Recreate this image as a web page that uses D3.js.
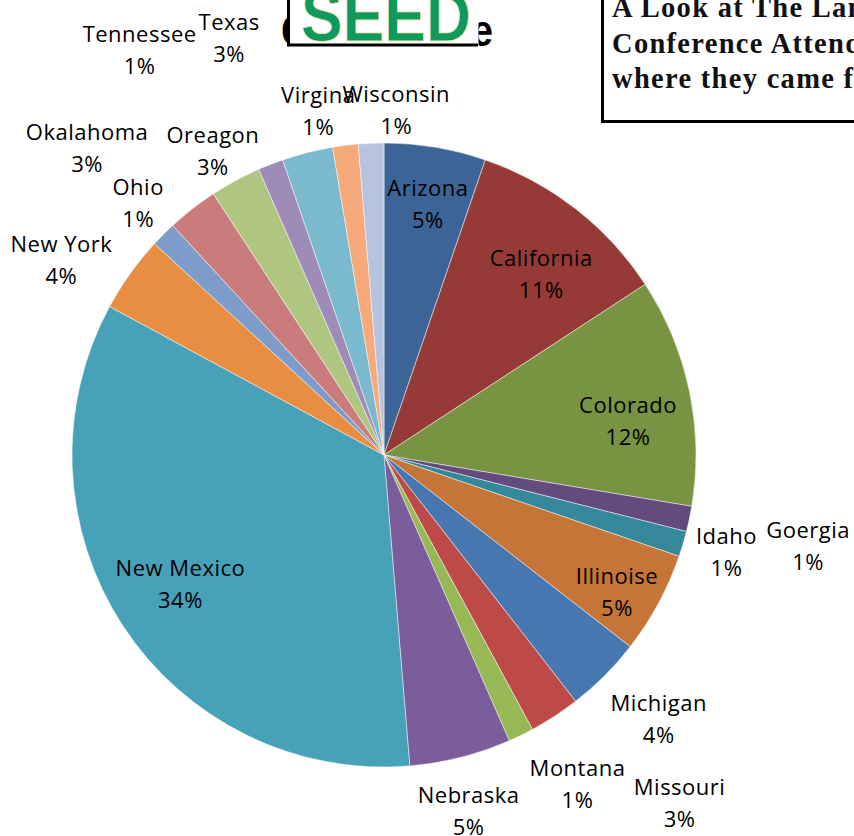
<!DOCTYPE html>
<html>
<head>
<meta charset="utf-8">
<script src="https://cdn.jsdelivr.net/npm/d3@7"></script>
<style>
  html, body { margin: 0; padding: 0; background: #fff; overflow: hidden; }
  svg { display: block; }
</style>
</head>
<body>
<div id="chart"></div>
<script>
// Données : nombre de participants par état (ordre du camembert, sens horaire)
const states = ["Arizona", "California", "Colorado", "Goergia", "Idaho", "Illinoise",
  "Michigan", "Missouri", "Montana", "Nebraska", "New Mexico", "New York", "Ohio",
  "Okalahoma", "Oreagon", "Tennessee", "Texas", "Virgina", "Wisconsin"];
const attendees = [4, 8, 9, 1, 1, 4, 3, 2, 1, 4, 26, 3, 1, 2, 2, 1, 2, 1, 1];

const colors = ["#3C6497", "#963A38", "#789341", "#634B7D", "#35879A", "#C57537",
  "#4677B1", "#BD4A47", "#97B955", "#7A5D9A", "#47A1B8", "#E88E42", "#7D9CC9",
  "#C97C7B", "#AFC680", "#9E8BB8", "#7BBACE", "#F6A97A", "#B5C3DE"];

// placement des étiquettes : [rayon relatif, décalage angulaire en degrés]
const labelLayout = [[0.82, 0.4], [0.77, 3], [0.79, 3.7], [1.39, 0.2], [1.14, -0.9], [0.865, 1.9],
  [1.22, -1.2], [1.46, -7.3], [1.22, -4.5], [1.17, 0.8], [0.77, 1.1], [1.21, -4.25], [1.13, 0.8],
  [1.37, -6.1], [1.12, -0.9], [1.52, -9.7], [1.43, -6.1], [1.125, -3.7], [1.11, 4.4]];

const width = 854, height = 836;
const cx = 384, cy = 455, radius = 312;

const svg = d3.select("#chart")
  .append("svg")
  .attr("width", width)
  .attr("height", height)
  .attr("viewBox", [0, 0, width, height]);

//---------------------------------------------------------------------------------------

// Camembert

const tidyData = states.map((s, i) => ({ state: s, value: attendees[i], col: colors[i], lay: labelLayout[i] }));
const total = d3.sum(attendees);

const pie = d3.pie().sort(null).value(d => d.value);
const arcs = pie(tidyData);

const arc = d3.arc().innerRadius(0).outerRadius(radius);

const gPie = svg.append("g").attr("transform", `translate(${cx}, ${cy})`);

gPie.selectAll("path")
  .data(arcs)
  .join("path")
  .attr("d", arc)
  .attr("fill", d => d.data.col)
  .attr("stroke", "#ffffff")
  .attr("stroke-opacity", 0.6)
  .attr("stroke-width", 0.8);

// Étiquettes : nom + pourcentage
const labels = gPie.selectAll(".label")
  .data(arcs)
  .join("g")
  .attr("class", "label")
  .attr("transform", d => {
    const a = (d.startAngle + d.endAngle) / 2 + d.data.lay[1] * Math.PI / 180;
    const r = radius * d.data.lay[0];
    return `translate(${r * Math.sin(a)}, ${-r * Math.cos(a)})`;
  });

const labelLines = [
  d => d.data.state,
  d => `${Math.round(d.data.value / total * 100)}%`
];

labelLines.forEach((fn, i) => {
  labels.append("text")
    .attr("y", i === 0 ? -16 : 16)
    .attr("text-anchor", "middle")
    .attr("dominant-baseline", "central")
    .attr("font-family", "'Open Sans', 'Noto Sans', sans-serif")
    .attr("font-size", "22px")
    .attr("letter-spacing", "0.5px")
    .attr("fill", "#000")
    .text(fn);
});

//---------------------------------------------------------------------------------------

// Titre masqué derrière le logo SEED (seuls les bords dépassent)
svg.append("text")
  .attr("x", 281)
  .attr("y", 46)
  .attr("font-family", "'Liberation Sans', sans-serif")
  .attr("font-weight", "bold")
  .attr("font-size", "44px")
  .attr("textLength", 212)
  .attr("lengthAdjust", "spacingAndGlyphs")
  .attr("fill", "#000")
  .text("Conference");

// Logo SEED
const logo = svg.append("g");
logo.append("rect")
  .attr("x", 288.5)
  .attr("y", -10)
  .attr("width", 190)
  .attr("height", 56.5)
  .attr("fill", "#fff");
logo.append("path")
  .attr("d", "M288.5,-5 V45 H478")
  .attr("fill", "none")
  .attr("stroke", "#000")
  .attr("stroke-width", 3);
logo.append("text")
  .attr("x", 301)
  .attr("y", 41)
  .attr("font-family", "'Liberation Sans', sans-serif")
  .attr("font-weight", "bold")
  .attr("font-size", "72px")
  .attr("textLength", 170)
  .attr("lengthAdjust", "spacingAndGlyphs")
  .attr("fill", "#0D9A5C")
  .attr("stroke", "#F2E3A8")
  .attr("stroke-width", 0.8)
  .text("SEED");

//---------------------------------------------------------------------------------------

// Encadré titre (coupé à droite)
const box = svg.append("g");
box.append("rect")
  .attr("x", 602.5)
  .attr("y", -10)
  .attr("width", 300)
  .attr("height", 131.5)
  .attr("fill", "#fff")
  .attr("stroke", "#000")
  .attr("stroke-width", 3);

const titleLines = ["A Look at The Land", "Conference Attendees and", "where they came from"];
box.selectAll(".title")
  .data(titleLines)
  .join("text")
  .attr("class", "title")
  .attr("x", 612)
  .attr("y", (d, i) => 17 + i * 35.5)
  .attr("font-family", "'Liberation Serif', serif")
  .attr("font-weight", "bold")
  .attr("font-size", "28.5px")
  .attr("letter-spacing", "1.3px")
  .attr("fill", "#111")
  .text(d => d);
</script>
</body>
</html>
